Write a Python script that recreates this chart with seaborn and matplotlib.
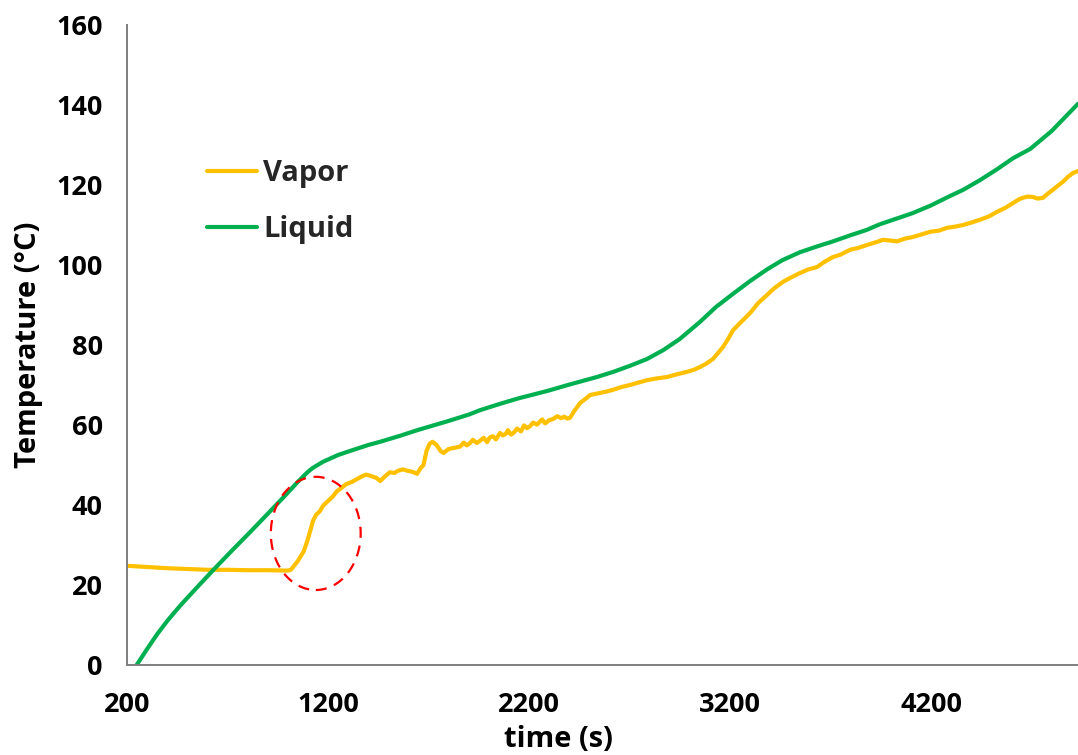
import matplotlib
matplotlib.use("Agg")
import matplotlib.pyplot as plt
from matplotlib.patches import Ellipse
import seaborn as sns
import pandas as pd

# Vapor-phase thermocouple reading (time in s, temperature in °C)
vapor_time = [
    200, 300, 400, 500, 600, 700, 800, 900, 1000, 1015, 1050, 1080, 1100, 1125,
    1140, 1160, 1175, 1200, 1225, 1245, 1260, 1290, 1320, 1345, 1370, 1390, 1410,
    1440, 1460, 1480, 1508, 1530, 1550, 1573, 1600, 1620, 1643, 1660, 1675, 1690,
    1705, 1720, 1740, 1760, 1775, 1800, 1830, 1857, 1875, 1890, 1905, 1921, 1940,
    1960, 1975, 1991, 2005, 2020, 2035, 2056, 2070, 2085, 2095, 2110, 2125, 2140,
    2160, 2175, 2190, 2205, 2220, 2240, 2255, 2265, 2280, 2300, 2320, 2340, 2360,
    2375, 2390, 2404, 2425, 2454, 2480, 2504,
    2550, 2580, 2618, 2660, 2702, 2745, 2787, 2830, 2887, 2930, 2986, 3020, 3051,
    3080, 3115, 3140, 3165, 3190, 3215, 3240, 3270, 3300, 3340, 3384, 3420, 3464,
    3500, 3548, 3590, 3633, 3670, 3712, 3750, 3797, 3840, 3881, 3920, 3961, 4000,
    4031, 4070, 4110, 4150, 4195, 4240, 4280, 4320, 4359, 4400, 4443, 4490, 4528,
    4570, 4608, 4640, 4657, 4680, 4707, 4730, 4757, 4780, 4806, 4830, 4856, 4880,
    4906, 4931,
]
vapor_temp = [
    24.8, 24.5, 24.2, 24.0, 23.8, 23.8, 23.7, 23.7, 23.6, 23.8, 26.0, 28.5, 31.5, 36.0,
    37.5, 38.5, 39.8, 41.0, 42.2, 43.5, 44.0, 45.2, 45.8, 46.5, 47.2, 47.6, 47.3,
    46.8, 46.0, 47.0, 48.2, 48.0, 48.6, 48.9, 48.5, 48.3, 47.8, 49.2, 50.0, 53.5,
    55.3, 55.8, 55.0, 53.5, 53.0, 54.0, 54.3, 54.6, 55.6, 54.9, 55.4, 56.3, 55.5,
    56.2, 56.8, 55.7, 56.9, 57.2, 56.4, 58.0, 57.4, 57.8, 58.7, 57.6, 58.1, 59.1,
    58.4, 59.9, 59.2, 59.7, 60.6, 60.1, 60.9, 61.4, 60.4, 61.2, 61.5, 62.2, 61.7,
    62.1, 61.6, 61.8, 63.5, 65.5, 66.5, 67.5,
    68.0, 68.3, 68.8, 69.5, 70.0, 70.6, 71.2, 71.6, 72.0, 72.6, 73.3, 73.8, 74.5,
    75.3, 76.5, 78.0, 79.5, 81.5, 83.7, 85.0, 86.5, 88.0, 90.5, 92.5, 94.2, 95.8,
    96.8, 98.0, 98.9, 99.5, 100.8, 102.0, 102.6, 103.8, 104.3, 105.0, 105.6, 106.3, 106.1,
    105.9, 106.6, 107.0, 107.6, 108.3, 108.6, 109.3, 109.6, 110.0, 110.6, 111.3, 112.2, 113.3,
    114.3, 115.5, 116.5, 116.8, 117.1, 117.0, 116.6, 116.8, 117.8, 118.8, 119.8, 120.8, 122.0,
    123.0, 123.5,
]

# Liquid-phase thermocouple reading
liquid_time = [
    248, 300, 350, 400, 464, 550, 630, 720, 812, 900, 976, 1050, 1100,
    1125, 1175, 1250, 1309, 1400, 1459, 1558, 1650, 1792, 1900, 1956, 2056, 2150,
    2290, 2400, 2538, 2620, 2702, 2787, 2867, 2950, 3051, 3130, 3215, 3300, 3384,
    3460, 3548, 3630, 3712, 3797, 3881, 3946, 4046, 4110, 4200, 4280, 4360, 4443,
    4530, 4608, 4693, 4800, 4931,
]
liquid_temp = [
    0.0, 4.0, 7.7, 11.0, 14.8, 19.5, 23.8, 28.5, 33.2, 37.8, 41.8, 45.8, 48.3,
    49.3, 50.8, 52.5, 53.5, 55.0, 55.8, 57.3, 58.8, 60.9, 62.6, 63.7, 65.3, 66.7,
    68.5, 70.1, 72.0, 73.3, 74.8, 76.5, 78.7, 81.5, 85.8, 89.5, 92.8, 96.0, 98.9,
    101.2, 103.2, 104.6, 105.9, 107.4, 108.8, 110.2, 111.9, 113.0, 114.9, 116.9, 118.8, 121.2,
    124.0, 126.7, 129.0, 133.5, 140.3,
]

x_ticks = [200, 1200, 2200, 3200, 4200]
y_ticks = [0, 20, 40, 60, 80, 100, 120, 140, 160]

# Region of the onset of vapor heating that gets circled
onset_center = (1139, 32.9)
onset_width = 447
onset_height = 28.3

VAPOR_COLOR = "#FFC000"
LIQUID_COLOR = "#00B050"
AXIS_COLOR = "#7F7F7F"

sns.set_style("white")
plt.rcParams["font.family"] = ["Open Sans", "DejaVu Sans"]
plt.rcParams["font.weight"] = "bold"

vapor_df = pd.DataFrame({"time": vapor_time, "temp": vapor_temp})
liquid_df = pd.DataFrame({"time": liquid_time, "temp": liquid_temp})

fig = plt.figure(figsize=(10.78, 7.55), dpi=100)
ax = fig.add_axes([127 / 1078, 90 / 755, 951 / 1078, 640 / 755])

sns.lineplot(data=vapor_df, x="time", y="temp", ax=ax, color=VAPOR_COLOR,
             linewidth=3.0, label="Vapor", sort=False)
sns.lineplot(data=liquid_df, x="time", y="temp", ax=ax, color=LIQUID_COLOR,
             linewidth=3.0, label="Liquid", sort=False)

ax.add_patch(Ellipse(onset_center, onset_width, onset_height, fill=False,
                     edgecolor="#FF0000", linewidth=1.6,
                     linestyle=(0, (5, 3.5)), zorder=4))

ax.set_xlim(200, 4931)
ax.set_ylim(0, 160)
ax.set_xticks(x_ticks)
ax.set_yticks(y_ticks)
ax.set_xticklabels([str(v) for v in x_ticks])
ax.set_yticklabels([str(v) for v in y_ticks])

for side in ("top", "right"):
    ax.spines[side].set_visible(False)
for side in ("left", "bottom"):
    ax.spines[side].set_color(AXIS_COLOR)
    ax.spines[side].set_linewidth(1.4)

ax.tick_params(axis="both", which="major", direction="out", length=6.5,
               width=1.4, color=AXIS_COLOR, labelsize=19.5, labelcolor="black")
ax.tick_params(axis="y", pad=11)
ax.tick_params(axis="x", pad=13)
for lab in ax.get_xticklabels() + ax.get_yticklabels():
    lab.set_fontweight("bold")

ax.set_xlabel("time (s)", fontsize=21, fontweight="bold", color="black")
ax.set_ylabel("Temperature (°C)", fontsize=21, fontweight="bold", color="black")
ax.xaxis.set_label_coords((558 - 127) / 951, -0.093)
ax.yaxis.set_label_coords(-0.088, 0.5)

leg = ax.legend(loc="upper left", bbox_to_anchor=(0.084, 0.791), frameon=False,
                fontsize=21, handlelength=1.72, handletextpad=0.2,
                labelspacing=0.95, borderpad=0, borderaxespad=0)
for txt in leg.get_texts():
    txt.set_fontweight("bold")
for line in leg.get_lines():
    line.set_linewidth(3.0)

ax.grid(False)
fig.savefig("out.png", dpi=100)
